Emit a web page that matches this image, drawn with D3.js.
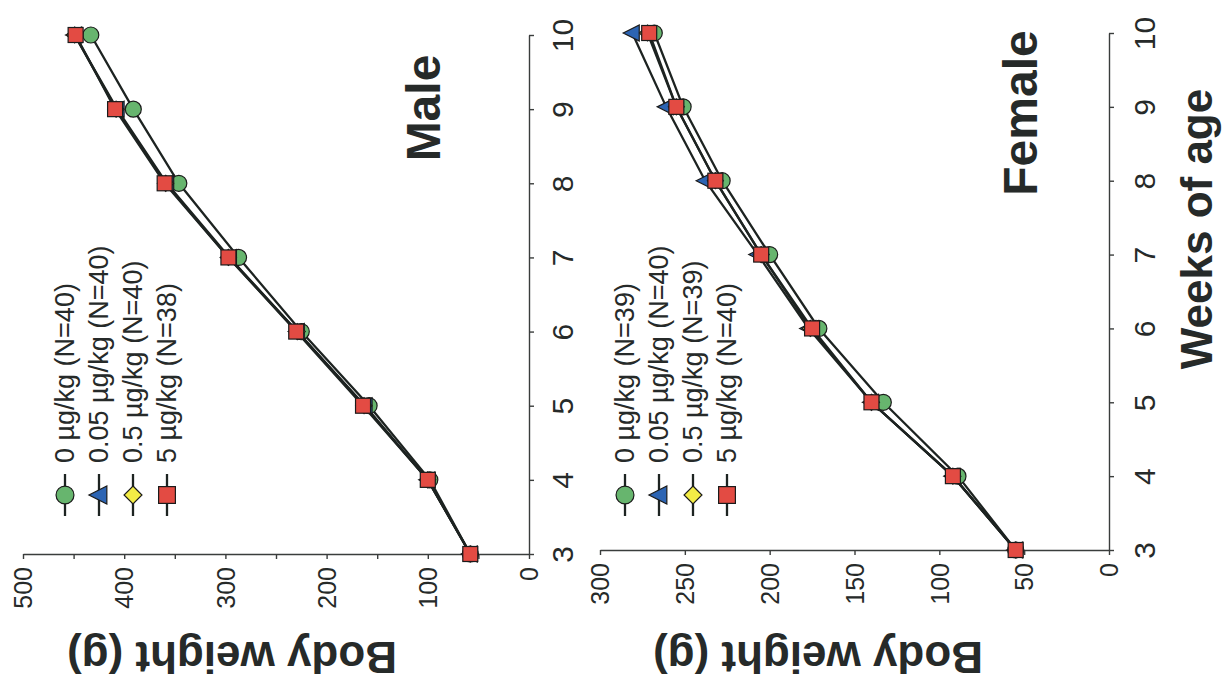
<!DOCTYPE html>
<html><head><meta charset="utf-8">
<script src="https://cdn.jsdelivr.net/npm/d3@7"></script>
<style>
html,body{margin:0;padding:0;background:#fff;}
svg{display:block;font-family:"Liberation Sans",Arial,sans-serif;}
</style></head><body>
<svg id="chart" width="1227" height="688"></svg>
<script>
// Body weight by week of age, per dose group (g)
const weeks = [3, 4, 5, 6, 7, 8, 9, 10];
const doses = ["0 µg/kg", "0.05 µg/kg", "0.5 µg/kg", "5 µg/kg"];
const maleN = [40, 40, 40, 38];
const femaleN = [39, 40, 39, 40];

const male0   = [58, 98, 158, 225, 287, 346, 391, 433];
const male005 = [58, 100, 162, 229, 296, 358, 407, 449];
const male05  = [58, 100, 163, 229, 297, 359, 408, 449];
const male5   = [58, 100, 164, 230, 297, 360, 409, 448];

const female0   = [55, 89, 133, 171, 200, 228, 251, 268];
const female005 = [55, 92, 140, 177, 207, 238, 261, 281];
const female05  = [55, 92, 140, 176, 205, 232, 255, 272];
const female5   = [55, 92, 140, 175, 205, 232, 255, 271];

const maleWeightTicks = [0, 100, 200, 300, 400, 500];
const maleMinorTicks = [50, 150, 250, 350, 450];
const femaleWeightTicks = [0, 50, 100, 150, 200, 250, 300];
const femaleMinorTicks = [];

// Figure is laid out sideways: weight runs right-to-left, weeks bottom-to-top.
const panels = [
  { title: "Male", series: [male0, male005, male05, male5], n: maleN,
    ticks: maleWeightTicks, minor: maleMinorTicks, wMax: 500,
    xRange: [529, 23], yRange: [554, 35],
    legendX: 65, legendStep: 34, titleX: 440, titleY: 108, bodyX: 232, weekOff: 44 },
  { title: "Female", series: [female0, female005, female05, female5], n: femaleN,
    ticks: femaleWeightTicks, minor: femaleMinorTicks, wMax: 300,
    xRange: [1109, 600], yRange: [550, 33],
    legendX: 625, legendStep: 34, titleX: 1037, titleY: 113, bodyX: 818, weekOff: 46 }
];

const markerFill = ["#67b56e", "#2c64b3", "#f3ec45", "#e34b43"];
const markerKind = ["circle", "triangle", "diamond", "square"];
const ink = "#262a29";

function drawMarker(sel, kind, fill, s = 1) {
  let el;
  if (kind === "circle") el = sel.append("circle").attr("r", 8 * s);
  else if (kind === "square") el = sel.append("rect")
    .attr("x", -7.5 * s).attr("y", -7.5 * s).attr("width", 15 * s).attr("height", 15 * s);
  else if (kind === "triangle") el = sel.append("path")
    .attr("d", `M${-9 * s},0L${7 * s},${-8 * s}L${7 * s},${8 * s}Z`);
  else el = sel.append("path").attr("d", `M0,${-8 * s}L${8 * s},0L0,${8 * s}L${-8 * s},0Z`);
  el.attr("fill", fill).attr("stroke", "#1b1b1b").attr("stroke-width", 1.2);
}

const svg = d3.select("#chart");

panels.forEach(p => {
  const x = d3.scaleLinear().domain([0, p.wMax]).range(p.xRange);
  const y = d3.scaleLinear().domain([3, 10]).range(p.yRange);
  const g = svg.append("g");
  const axisY = p.yRange[0];
  const axisX = p.xRange[0];

  // weight axis (horizontal)
  const wAxis = g.append("g").attr("transform", `translate(0,${axisY})`)
    .call(d3.axisBottom(x).tickValues(p.ticks).tickSize(5).tickSizeOuter(0).tickFormat(d3.format("d")));
  wAxis.selectAll("text")
    .attr("transform", "rotate(-90)")
    .attr("x", -13).attr("y", 0).attr("dy", "0.35em")
    .attr("text-anchor", "end")
    .attr("font-size", 25).attr("fill", ink);
  if (p.minor.length) {
    g.append("g").attr("transform", `translate(0,${axisY})`)
      .call(d3.axisBottom(x).tickValues(p.minor).tickSize(5).tickSizeOuter(0).tickFormat(""))
      .select(".domain").remove();
  }

  // weeks axis (vertical)
  const tAxis = g.append("g").attr("transform", `translate(${axisX},0)`)
    .call(d3.axisRight(y).tickValues(weeks).tickSize(5).tickSizeOuter(0).tickFormat(d3.format("d")));
  tAxis.selectAll("text")
    .attr("transform", "rotate(-90)")
    .attr("x", 0).attr("y", p.weekOff).attr("dy", 0)
    .attr("text-anchor", "middle")
    .attr("font-size", 30).attr("fill", ink);

  g.selectAll(".domain, .tick line").attr("stroke", "#3a3d3c").attr("stroke-width", 1.4);

  // series lines
  const line = d3.line().x(d => x(d.w)).y(d => y(d.t));
  p.series.forEach(vals => {
    const pts = weeks.map((t, i) => ({ t, w: vals[i] }));
    g.append("path").datum(pts).attr("d", line)
      .attr("fill", "none").attr("stroke", "#1d2321").attr("stroke-width", 2.3);
  });
  // series markers
  p.series.forEach((vals, si) => {
    weeks.forEach((t, i) => {
      const m = g.append("g").attr("transform", `translate(${x(vals[i])},${y(t)})`);
      drawMarker(m, markerKind[si], markerFill[si]);
    });
  });

  // legend
  doses.forEach((d, i) => {
    const cx = p.legendX + i * p.legendStep;
    const lg = g.append("g").attr("transform", `translate(${cx},495)`);
    lg.append("line").attr("y1", -21).attr("y2", 21).attr("stroke", "#1d2321").attr("stroke-width", 2.3);
    drawMarker(lg, markerKind[i], markerFill[i], 1.12);
    g.append("text")
      .attr("transform", `translate(${cx},463) rotate(-90)`)
      .attr("dy", "0.35em")
      .attr("font-size", 27).attr("fill", ink)
      .text(`${d} (N=${p.n[i]})`);
  });

  // panel title
  g.append("text")
    .attr("transform", `translate(${p.titleX},${p.titleY}) rotate(-90)`)
    .attr("text-anchor", "middle").attr("font-weight", "bold")
    .attr("font-size", 48).attr("fill", ink)
    .text(p.title);

  // weight axis title
  g.append("text")
    .attr("transform", `translate(${p.bodyX},642) rotate(180)`)
    .attr("text-anchor", "middle").attr("font-weight", "bold")
    .attr("font-size", 44).attr("fill", ink)
    .text("Body weight (g)");
});

// shared weeks axis title
svg.append("text")
  .attr("transform", "translate(1212,229) rotate(-90)")
  .attr("text-anchor", "middle").attr("font-weight", "bold")
  .attr("font-size", 44).attr("fill", ink)
  .text("Weeks of age");
</script>
</body></html>
